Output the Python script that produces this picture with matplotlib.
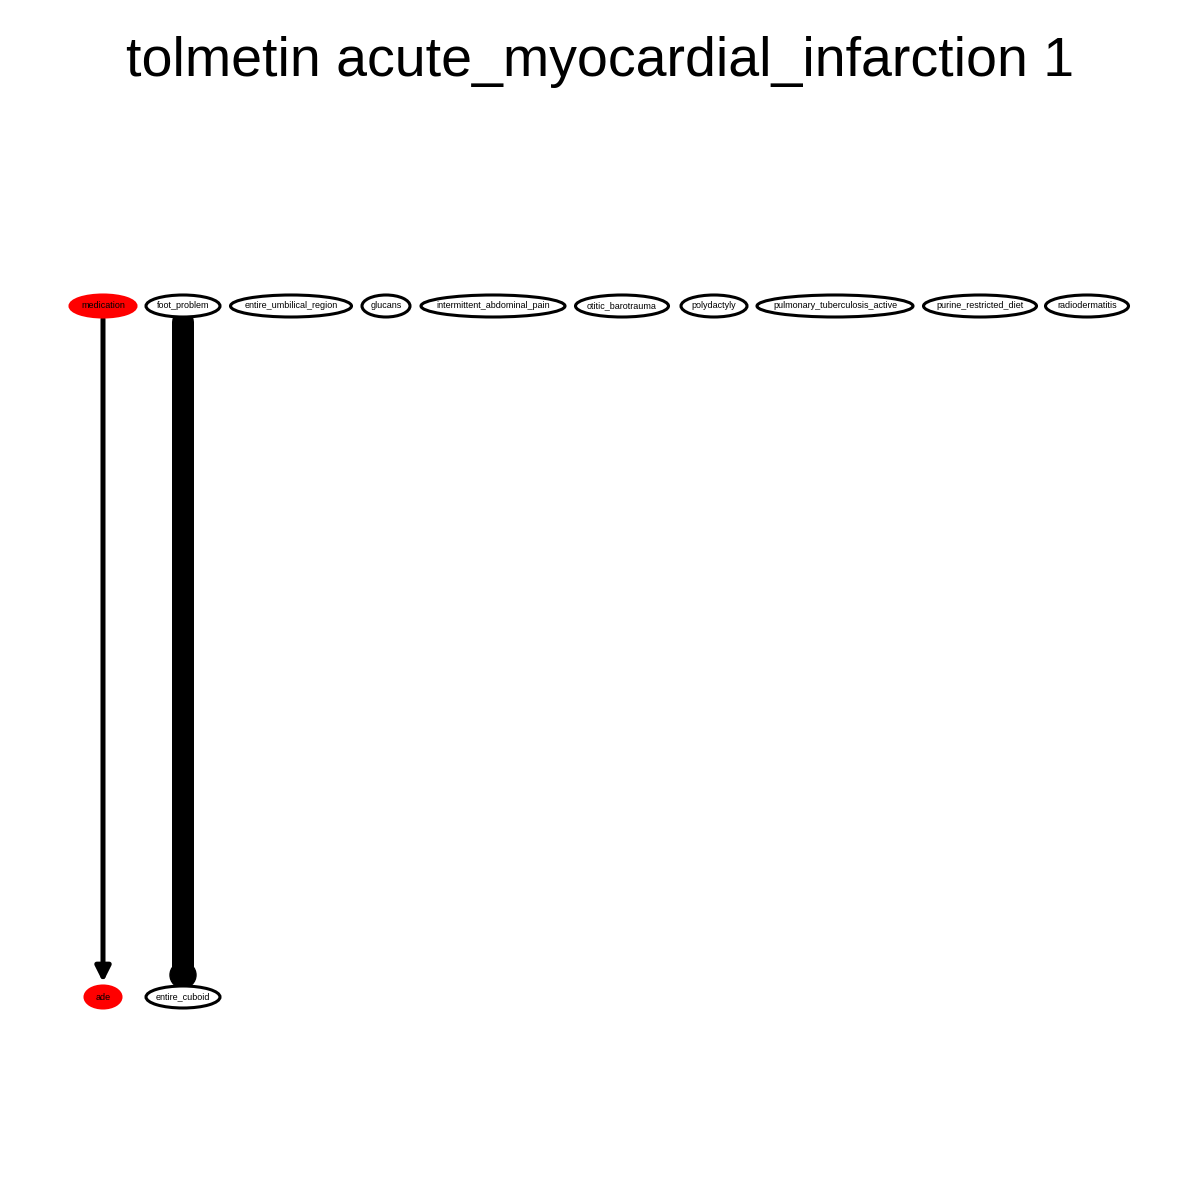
import matplotlib
matplotlib.use("Agg")
import matplotlib.pyplot as plt
from matplotlib.patches import Ellipse, FancyArrowPatch

title = "tolmetin acute_myocardial_infarction 1"
top_nodes = ["medication", "foot_problem", "entire_umbilical_region", "glucans",
             "intermittent_abdominal_pain", "otitic_barotrauma", "polydactyly",
             "pulmonary_tuberculosis_active", "purine_restricted_diet", "radiodermatitis"]
top_x = [103, 183, 291, 386, 493, 622, 714, 835, 980, 1087]
top_w = [66, 74, 121, 48, 144, 93, 66, 156, 113, 83]
top_fill = ["red"] + ["white"] * 9
bottom_nodes = ["ade", "entire_cuboid"]
bottom_x = [103, 183]
bottom_w = [36, 74]
bottom_fill = ["red", "white"]
edges = [("medication", "ade", 5), ("foot_problem", "entire_cuboid", 22)]

fig = plt.figure(figsize=(12, 12), dpi=100)
ax = fig.add_axes([0, 0, 1, 1])
ax.set_xlim(0, 1200); ax.set_ylim(1200, 0); ax.axis("off")
fig.text(0.5, 0.948, title, ha="center", va="center", fontsize=40, family="Liberation Sans")

ytop, ybot, h = 306, 997, 22
pos = {}
for names, xs, ws, fills, y in [(top_nodes, top_x, top_w, top_fill, ytop),
                                (bottom_nodes, bottom_x, bottom_w, bottom_fill, ybot)]:
    for n, x, w, f in zip(names, xs, ws, fills):
        pos[n] = x
        ec = "red" if f == "red" else "black"
        ax.add_patch(Ellipse((x, y), w, h, facecolor=f, edgecolor=ec, lw=2.2, zorder=3))
        ax.text(x, y, n, ha="center", va="center", fontsize=6.5, family="Liberation Sans", zorder=4)

for s, t, w in edges:
    x = pos[s]
    if w < 10:
        ax.add_patch(FancyArrowPatch((x, ytop + 10), (x, ybot - 12), arrowstyle="-|>,head_length=6,head_width=3",
                                     lw=w * 0.72, color="black", mutation_scale=1.5, zorder=2))
    else:
        ax.plot([x, x], [ytop + 16, ybot - 22], color="black", lw=w * 0.72 * 1.0, solid_capstyle="round", zorder=2)
        ax.plot([x, x], [ytop + 16, ybot - 22], color="black", lw=w * 0.72, solid_capstyle="butt", zorder=2)
        ax.add_patch(Ellipse((x, ybot - 22), 26, 26, color="black", zorder=2))

fig.savefig("out.png", dpi=100, facecolor="white")
